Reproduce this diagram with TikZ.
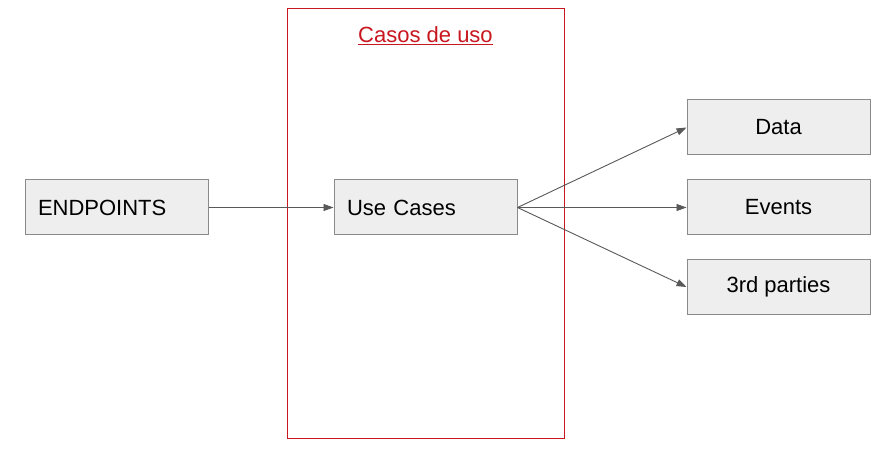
\documentclass[tikz,border=0pt]{standalone}
\usepackage{fontspec}
\setmainfont{Liberation Sans}
\usetikzlibrary{arrows.meta}

\definecolor{boxfill}{HTML}{EEEEEE}
\definecolor{boxline}{HTML}{8A8A8A}
\definecolor{casered}{HTML}{C8171E}
\definecolor{arrowgray}{HTML}{595959}

\tikzset{
  block/.style={draw=boxline, fill=boxfill, line width=1pt,
    minimum width=183pt, minimum height=55pt, inner sep=0pt,
    font=\fontsize{22}{26}\selectfont},
  leftblock/.style={block, text width=157pt, align=left},
  flow/.style={draw=arrowgray, line width=0.9pt,
    -{Triangle[length=10pt,width=7pt]}}
}

\begin{document}
\begin{tikzpicture}[x=1pt, y=-1pt]
  \useasboundingbox[fill=white] (0,0) rectangle (880,454);

  % use case boundary
  \draw[casered, line width=1pt] (287,9) rectangle (564,438);
  \node[casered, font=\fontsize{22}{26}\selectfont] (title) at (425.5,36)
    {\underline{Casos de uso}};

  % boxes
  \node[leftblock] (endpoints) at (116.5,207.5) {ENDPOINTS};
  \node[leftblock] (usecases) at (425.5,207.5) {Use Cases};
  \node[block] (data) at (778.5,127.5) {Data};
  \node[block] (events) at (778.5,207.5) {Events};
  \node[block] (third) at (778.5,287) {3rd parties};

  % connectors
  \draw[flow] (endpoints.east) -- (usecases.west);
  \draw[flow] (usecases.east) -- (data.west);
  \draw[flow] (usecases.east) -- (events.west);
  \draw[flow] (usecases.east) -- (third.west);
\end{tikzpicture}
\end{document}
